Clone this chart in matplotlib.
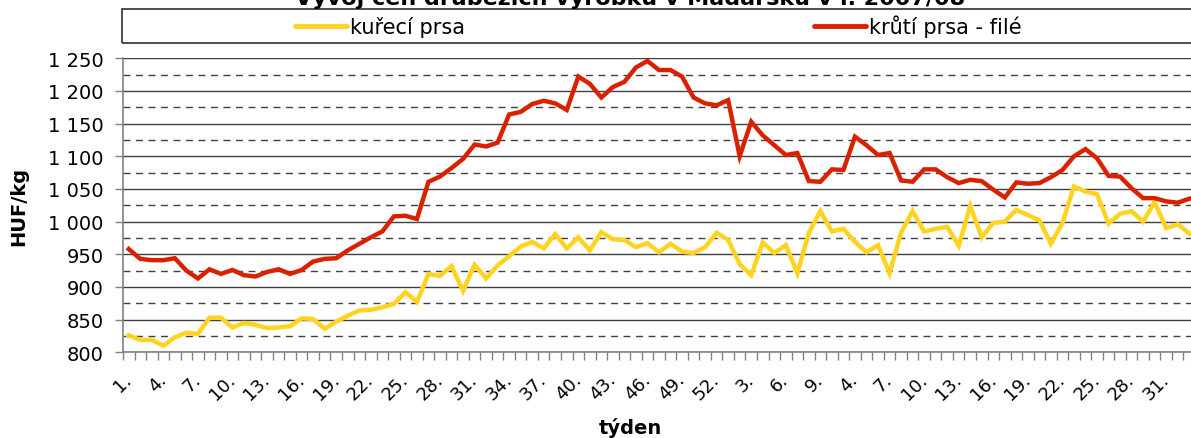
import matplotlib.pyplot as plt
from matplotlib.lines import Line2D
from matplotlib.patches import Rectangle
from matplotlib.ticker import FixedLocator, MultipleLocator, FuncFormatter

# week labels: 2007 weeks 1-52, 2008 weeks 1-11, then 2008 weeks 4-33 again (as in source)
weeks = list(range(1, 53)) + list(range(1, 12)) + list(range(4, 34))

kureci = [826, 819, 819, 810, 823, 830, 828, 853, 853, 838,
          845, 842, 837, 838, 840, 852, 851, 836, 847, 856,
          864, 865, 869, 874, 892, 877, 920, 917, 932, 894,
          934, 913, 933, 947, 962, 969, 959, 981, 959, 976,
          956, 984, 973, 972, 961, 967, 953, 966, 954, 952,
          961, 983, 972, 935, 918, 968, 952, 964, 921, 983,
          1016, 985, 989, 969, 953, 964, 921, 983, 1016, 985,
          989, 992, 963, 1024, 976, 998, 1000, 1018, 1010, 1002,
          966, 998, 1054, 1046, 1042, 997, 1012, 1016, 1000, 1030,
          990, 996, 982]

kruti = [958, 943, 941, 941, 944, 925, 913, 927, 920, 926,
         918, 916, 923, 927, 920, 926, 939, 943, 944, 956,
         966, 976, 985, 1008, 1009, 1004, 1061, 1069, 1082, 1096,
         1118, 1115, 1121, 1164, 1168, 1180, 1185, 1181, 1171, 1222,
         1211, 1190, 1206, 1214, 1236, 1246, 1232, 1232, 1222, 1190,
         1181, 1178, 1186, 1100, 1153, 1132, 1117, 1102, 1105, 1062,
         1061, 1080, 1079, 1130, 1117, 1102, 1105, 1063, 1061, 1080,
         1080, 1068, 1059, 1064, 1062, 1049, 1037, 1060, 1058, 1059,
         1068, 1079, 1100, 1111, 1097, 1070, 1069, 1051, 1036, 1036,
         1031, 1029, 1035]

c_kur = "#FFD320"
c_kru = "#D92100"

W, H = 1191, 439
fig = plt.figure(figsize=(W / 100, H / 100), dpi=100)
# plot area runs past the right edge like the cropped original
ax = fig.add_axes([123 / W, (H - 353.3) / H, 1072 / W, 294 / H])

x = range(len(weeks))
ax.plot(x, kureci, color=c_kur, lw=3.2, solid_joinstyle="miter", zorder=3)
ax.plot(x, kruti, color=c_kru, lw=3.2, solid_joinstyle="miter", zorder=3)

ax.set_xlim(-0.5, len(weeks) - 0.5)
ax.set_ylim(800, 1250)

# y axis
ax.yaxis.set_major_locator(MultipleLocator(50))
ax.yaxis.set_minor_locator(MultipleLocator(25))
ax.yaxis.set_major_formatter(FuncFormatter(lambda v, p: f"{int(v):,}".replace(",", " ")))
ax.grid(which="major", axis="y", color="#404040", lw=1, ls="-")
ax.grid(which="minor", axis="y", color="#404040", lw=1, ls=(0, (5, 4)))
ax.tick_params(axis="y", which="major", length=6, width=1, color="#808080",
               labelsize=14, pad=8)
ax.tick_params(axis="y", which="minor", length=0)

# x axis: labels every 3rd week, tick marks between categories
ax.xaxis.set_major_locator(FixedLocator(list(range(0, len(weeks), 3))))
ax.set_xticklabels([f"{weeks[i]}." for i in range(0, len(weeks), 3)])
ax.xaxis.set_minor_locator(FixedLocator([i - 0.5 for i in range(len(weeks) + 1)]))
ax.tick_params(axis="x", which="major", length=0, labelsize=13, pad=17)
ax.tick_params(axis="x", which="minor", length=6, width=1, color="#808080")
for lab in ax.get_xticklabels():
    lab.set_rotation(45)
    lab.set_ha("right")
    lab.set_va("center")
    lab.set_rotation_mode("anchor")

for s in ["top", "right"]:
    ax.spines[s].set_visible(False)
for s in ["left", "bottom"]:
    ax.spines[s].set_color("#808080")
    ax.spines[s].set_linewidth(1.2)

ax.set_ylabel("HUF/kg", fontsize=14, fontweight="bold", labelpad=14)
fig.text(630 / W, (H - 428) / H, "týden", fontsize=14, fontweight="bold",
         ha="center", va="center")

# title (cut off at the top in the original)
fig.text(630 / W, 1 - 5 / H, "Vývoj cen drůbežích výrobků v Maďarsku v l. 2007/08",
         fontsize=16, fontweight="bold", ha="center", va="baseline")

# legend box across the top
fig.add_artist(Rectangle((122 / W, (H - 44) / H), 1300 / W, 34 / H,
                         transform=fig.transFigure, fill=False,
                         edgecolor="#303030", lw=1.2))
ly = (H - 27) / H
for x0, col, name in [(295, c_kur, "kuřecí prsa"), (814, c_kru, "krůtí prsa - filé")]:
    fig.add_artist(Line2D([x0 / W, (x0 + 52) / W], [ly, ly], transform=fig.transFigure,
                          color=col, lw=3.5, solid_capstyle="round"))
    fig.text((x0 + 55) / W, ly, name, fontsize=15, ha="left", va="center")

plt.savefig("out.png", dpi=100)
plt.close()
